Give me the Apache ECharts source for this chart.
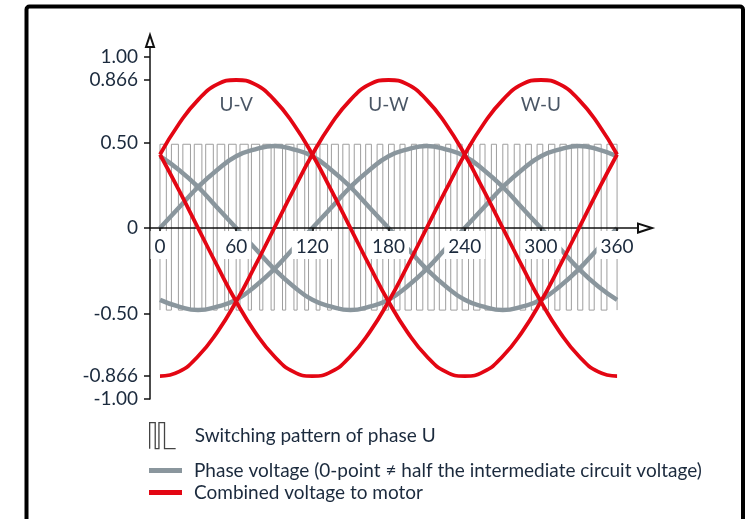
<!DOCTYPE html>
<html><head><meta charset="utf-8">
<script src="https://cdn.jsdelivr.net/npm/echarts@6/dist/echarts.min.js"></script>
<style>html,body{margin:0;padding:0;background:#fff}#c{width:749px;height:519px}</style>
</head><body><div id="c"></div>
<script>
// ---- data ----
const angles = [0,15,30,45,60,75,90,105,120,135,150,165,180,195,210,225,240,255,270,285,300,315,330,345,360];
const phaseU = [0,.12,.24,.34,.42,.46,.48,.46,.42,.34,.24,.12,0,-.12,-.24,-.34,-.42,-.46,-.48,-.46,-.42,-.34,-.24,-.12,0];
const phaseW = [.42,.34,.24,.12,0,-.12,-.24,-.34,-.42,-.46,-.48,-.46,-.42,-.34,-.24,-.12,0,.12,.24,.34,.42,.46,.48,.46,.42];
const phaseV = [-.42,-.46,-.48,-.46,-.42,-.34,-.24,-.12,0,.12,.24,.34,.42,.46,.48,.46,.42,.34,.24,.12,0,-.12,-.24,-.34,-.42];
const lineUV = [.43,.61,.75,.84,.866,.84,.75,.61,.43,.22,0,-.22,-.43,-.61,-.75,-.84,-.866,-.84,-.75,-.61,-.43,-.22,0,.22,.43];
const lineUW = [-.866,-.84,-.75,-.61,-.43,-.22,0,.22,.43,.61,.75,.84,.866,.84,.75,.61,.43,.22,0,-.22,-.43,-.61,-.75,-.84,-.866];
const lineWU = [.43,.22,0,-.22,-.43,-.61,-.75,-.84,-.866,-.84,-.75,-.61,-.43,-.22,0,.22,.43,.61,.75,.84,.866,.84,.75,.61,.43];
// switching pattern: [start, end] angles of each "high" pulse
const pulseEdges = [[0,5],[9,14.5],[18,24],[27,33],[36,42],[45,51],[54,60],[63,69.5],[72,78.5],[81,87.5],[90,96.5],[99,105.5],[108,114],[117,123],[126,132],[135,140.5],[144,149],[153,158],[162,166.5],[171,175.5],[180,184.5],[189,193],[198,202],[207,211],[216,220],[225,229],[234,238],[243,247],[252,256],[261,265],[270,274],[279,283.5],[288,292.5],[297,301.5],[306,311],[315,320],[324,329],[333,338],[342,347.5],[352,360]];
const pulseLevels = [-0.48, 0.49]; // low, high
const curveLabels = ['U-V','U-W','W-U'];
const curveLabelAngles = [60,180,300];
const curveLabelLevel = 0.72;
const xTicks = [0,60,120,180,240,300,360];
const yTicks = [-1,-0.866,-0.5,0,0.5,0.866,1];
const yTickLabels = ['-1.00','-0.866','-0.50','0','0.50','0.866','1.00'];

const NAME_SW = 'Switching pattern of phase U';
const NAME_PH = 'Phase voltage (0-point \u2260 half the intermediate circuit voltage)';
const NAME_CV = 'Combined voltage to motor';
const FONT = 'Lato';
const FS = 19;
const TXT = '#1b2a3d';
const GRAY = '#8a969d';
const RED = '#e30613';

const Y_MIN = -1, Y_MAX = 1.094, GRID_TOP = 41, GRID_BOTTOM = 120, H = 519;
const gridH = H - GRID_TOP - GRID_BOTTOM;
const xAxisOffset = -gridH * (0 - Y_MIN) / (Y_MAX - Y_MIN); // put x axis on y = 0

const pulseData = [];
pulseEdges.forEach(([a,b]) => {
  pulseData.push([a,pulseLevels[0]],[a,pulseLevels[1]],[b,pulseLevels[1]],[b,pulseLevels[0]]);
});
const pair = arr => angles.map((a,i) => [a, arr[i]]);

function curve(name, arr, color, width, z) {
  return {type:'line', name, data: pair(arr), smooth: true, showSymbol:false, symbol:'none',
    itemStyle:{color}, lineStyle:{color, width, cap:'butt'}, z, animation:false, silent:true};
}

const chart = echarts.init(document.getElementById('c'));
chart.setOption({
  animation:false,
  grid:{left:150, right:104, top:GRID_TOP, bottom:GRID_BOTTOM},
  xAxis:{type:'value', min:-7.87, max:382, z:3, offset:xAxisOffset,
    axisLine:{show:true, onZero:false, lineStyle:{color:'#111', width:1.5}, symbol:['none','emptyTriangle'], symbolSize:[9,14]},
    axisTick:{show:true, length:5, customValues:xTicks, lineStyle:{color:'#111', width:1.5}},
    axisLabel:{customValues:xTicks, fontFamily:FONT, fontSize:FS, color:TXT, backgroundColor:'#fff', padding:[6,4,3,4], margin:3},
    splitLine:{show:false}},
  yAxis:{type:'value', min:Y_MIN, max:Y_MAX, z:3,
    axisLine:{show:true, onZero:false, lineStyle:{color:'#111', width:1.5}, symbol:['none','emptyTriangle'], symbolSize:[8,12]},
    axisTick:{show:true, length:6, customValues:yTicks, lineStyle:{color:'#111', width:1.5}},
    axisLabel:{customValues:yTicks, fontFamily:FONT, fontSize:FS, color:TXT, margin:12,
      formatter: v => { const i = yTicks.findIndex(t => Math.abs(t - v) < 1e-6); return i >= 0 ? yTickLabels[i] : ''; }},
    splitLine:{show:false}},
  legend:[
    {data:[NAME_SW], left:149, top:422, padding:0, selectedMode:false, itemWidth:28, itemHeight:26,
     icon:'path://M0,28 L0,0 L6,0 L6,28 L10,28 L10,0 L16,0 L16,28 L28,28',
     itemStyle:{color:'rgba(0,0,0,0)', borderColor:'#444', borderWidth:1.3},
     textStyle:{fontFamily:FONT, fontSize:FS, color:TXT, padding:[0,0,0,13]}},
    {data:[NAME_PH], left:149, top:461, padding:0, selectedMode:false, itemWidth:33, itemHeight:5, icon:'rect',
     itemStyle:{borderWidth:0}, textStyle:{fontFamily:FONT, fontSize:FS, color:TXT, padding:[0,0,0,7]}},
    {data:[NAME_CV], left:149, top:483, padding:0, selectedMode:false, itemWidth:33, itemHeight:5, icon:'rect',
     itemStyle:{borderWidth:0}, textStyle:{fontFamily:FONT, fontSize:FS, color:TXT, padding:[0,0,0,7]}}
  ],
  graphic:[{type:'rect', shape:{x:26.5, y:6.5, width:716.5, height:600, r:3}, style:{fill:'none', stroke:'#000', lineWidth:4}, z:100, silent:true}],
  series:[
    {type:'line', name:NAME_SW, data:pulseData, showSymbol:false, symbol:'none', itemStyle:{color:'#444'},
     lineStyle:{color:'#9e9e9e', width:1}, z:1, animation:false, silent:true},
    curve(NAME_PH, phaseU, GRAY, 4.5, 2),
    curve(NAME_PH, phaseW, GRAY, 4.5, 2),
    curve(NAME_PH, phaseV, GRAY, 4.5, 2),
    curve(NAME_CV, lineUV, RED, 3.8, 4),
    curve(NAME_CV, lineUW, RED, 3.8, 4),
    curve(NAME_CV, lineWU, RED, 3.8, 4),
    {type:'scatter', name:'labels', data: curveLabelAngles.map((a,i)=>[a, curveLabelLevel, curveLabels[i]]),
     symbolSize:0, z:5, silent:true, animation:false,
     label:{show:true, position:'inside', formatter:p=>p.data[2], fontFamily:FONT, fontSize:FS, color:TXT}}
  ]
});
</script></body></html>
